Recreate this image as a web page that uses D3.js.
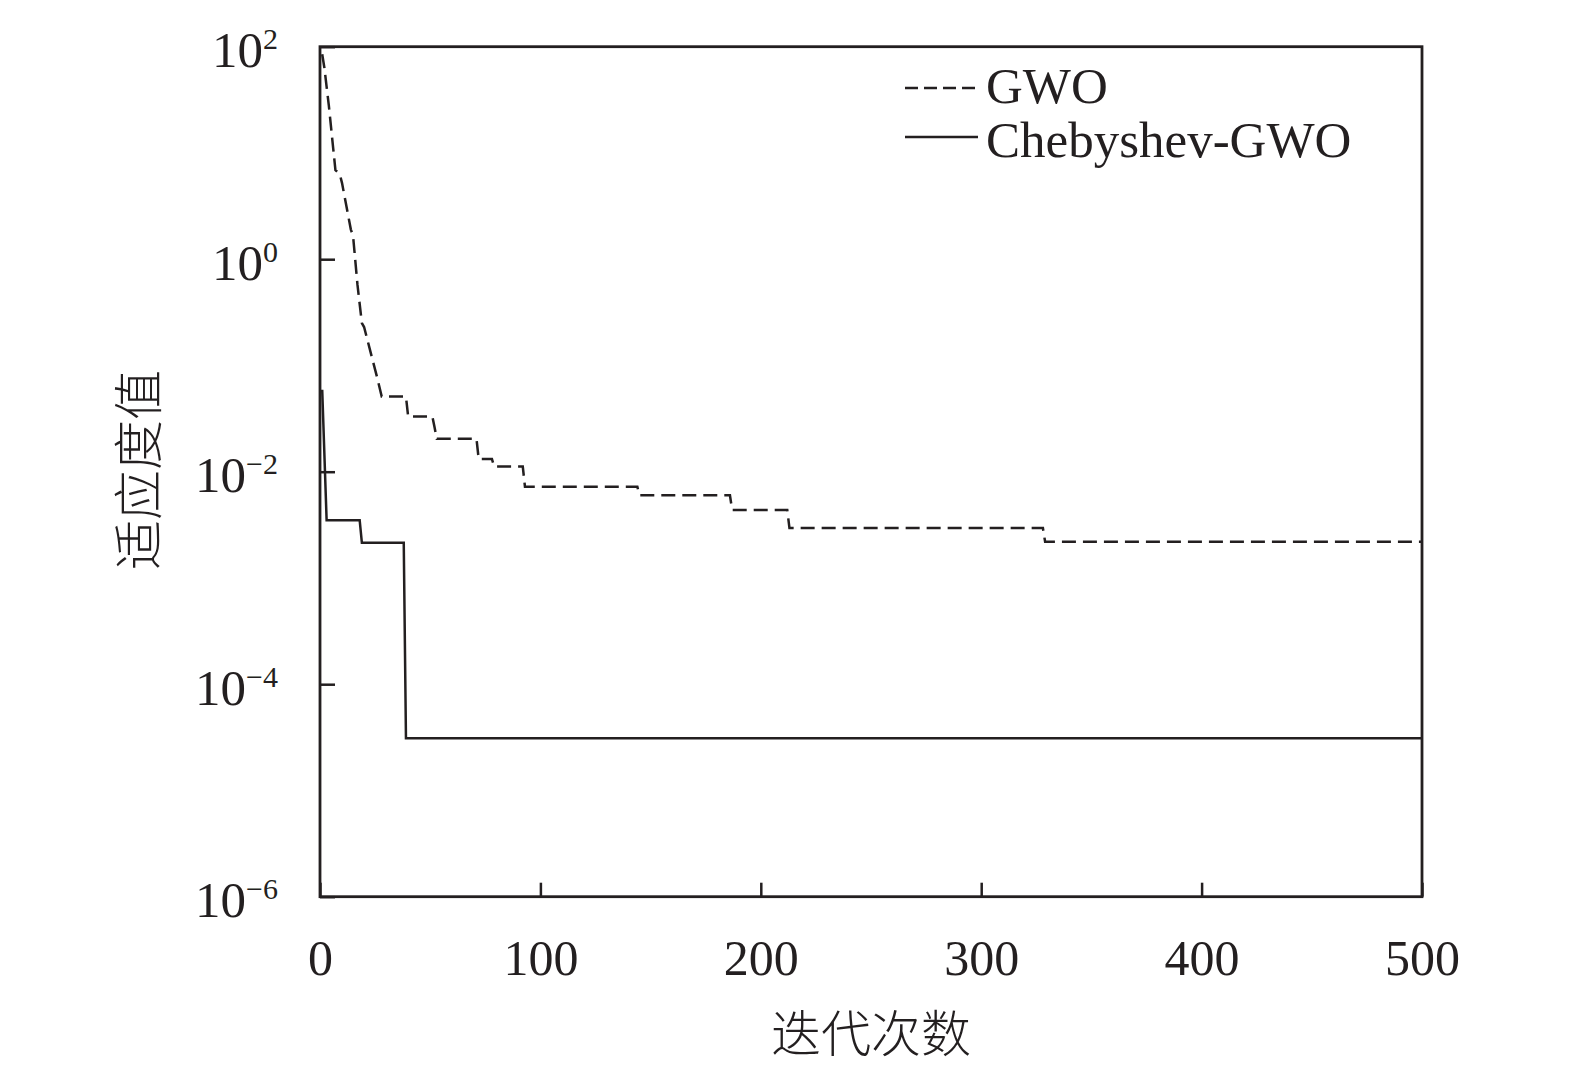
<!DOCTYPE html>
<html>
<head>
<meta charset="utf-8">
<script src="https://cdn.jsdelivr.net/npm/d3@7"></script>
<style>
  html, body { margin: 0; padding: 0; background: #fff; }
  svg { display: block; }
</style>
</head>
<body>
<svg id="chart" width="1575" height="1068"></svg>
<script>
// GWO convergence curve (iteration, best fitness)
const gwoIter = [1, 2, 4, 6, 7, 9, 10, 14, 15, 17, 19, 20, 26, 28, 39, 40, 51, 52, 53, 71, 72, 78, 79, 92, 93, 144, 145, 186, 187, 212, 213, 328, 329, 500];
const gwoFit = [85, 63, 28, 11, 6.9, 6.3, 5.2, 1.9, 1.66, 0.575, 0.25, 0.23, 0.076, 0.051, 0.051, 0.033, 0.033, 0.026, 0.0204, 0.0204, 0.0132, 0.0132, 0.0112, 0.0112, 0.0072, 0.0072, 0.006, 0.006, 0.00437, 0.00437, 0.00295, 0.00295, 0.00219, 0.00219];

// Chebyshev-GWO convergence curve
const chebIter = [1, 3, 18, 19, 38, 39, 500];
const chebFit = [0.059, 0.0035, 0.0035, 0.00214, 0.00214, 3.1e-5, 3.1e-5];

const xTicks = [0, 100, 200, 300, 400, 500];
const yTicks = [1e2, 1e0, 1e-2, 1e-4, 1e-6];
const yExp = ['2', '0', '\u22122', '\u22124', '\u22126'];

const seriesNames = ['GWO', 'Chebyshev-GWO'];
const xTitle = '迭代次数';
const yTitle = '适应度值';

const ink = '#231f20';
const serif = '"Liberation Serif", "Times New Roman", serif';
const cjk = '"Noto Sans CJK SC", sans-serif';

const margin = {left: 320, top: 46.7, right: 1422, bottom: 896.7};

const svg = d3.select('#chart');

const x = d3.scaleLinear().domain([0, 500]).range([margin.left, margin.right]);
const y = d3.scaleLog().domain([1e-6, 1e2]).range([margin.bottom, margin.top]);

// x axis, ticks pointing inward
const xAxis = svg.append('g')
  .attr('transform', 'translate(0,' + margin.bottom + ')')
  .call(d3.axisBottom(x).tickValues(xTicks).tickSize(-14).tickPadding(43).tickFormat(d3.format('d')));

xAxis.select('.domain').remove();
xAxis.selectAll('line').attr('stroke', ink).attr('stroke-width', 2.5);
xAxis.selectAll('text')
  .attr('fill', ink)
  .style('font-family', serif)
  .style('font-size', '50px');

// y axis, log scale with power labels
const yAxis = svg.append('g')
  .attr('transform', 'translate(' + margin.left + ',0)')
  .call(d3.axisLeft(y).tickValues(yTicks).tickSize(-15).tickPadding(42).tickFormat(''));

yAxis.select('.domain').remove();
yAxis.selectAll('line').attr('stroke', ink).attr('stroke-width', 2.5);
yAxis.selectAll('.tick text').each(function (d, i) {
  const t = d3.select(this)
    .attr('dy', null)
    .attr('y', 20)
    .attr('fill', ink)
    .style('font-family', serif)
    .style('font-size', '51px');
  t.append('tspan').text('10');
  t.append('tspan')
    .attr('dy', -18)
    .style('font-size', '30px')
    .text(yExp[i]);
});

// plot frame
svg.append('rect')
  .attr('x', margin.left)
  .attr('y', margin.top)
  .attr('width', margin.right - margin.left)
  .attr('height', margin.bottom - margin.top)
  .attr('fill', 'none')
  .attr('stroke', ink)
  .attr('stroke-width', 2.8);

const line = d3.line()
  .x(function (d) { return x(d[0]); })
  .y(function (d) { return y(d[1]); });

const gwoData = d3.zip(gwoIter, gwoFit);
const chebData = d3.zip(chebIter, chebFit);

svg.append('path')
  .datum(gwoData)
  .attr('d', line)
  .attr('fill', 'none')
  .attr('stroke', ink)
  .attr('stroke-width', 2.5)
  .attr('stroke-dasharray', '14,7');

svg.append('path')
  .datum(chebData)
  .attr('d', line)
  .attr('fill', 'none')
  .attr('stroke', ink)
  .attr('stroke-width', 2.5);

// legend
const legend = svg.append('g');
const legendRows = [
  {name: seriesNames[0], dash: '13,6', ly: 88, ty: 103},
  {name: seriesNames[1], dash: null, ly: 137, ty: 157}
];

legendRows.forEach(function (r) {
  legend.append('line')
    .attr('x1', 905).attr('x2', 978)
    .attr('y1', r.ly).attr('y2', r.ly)
    .attr('stroke', ink)
    .attr('stroke-width', 2.5)
    .attr('stroke-dasharray', r.dash);
  legend.append('text')
    .attr('x', 986)
    .attr('y', r.ty)
    .attr('fill', ink)
    .style('font-family', serif)
    .style('font-size', '51px')
    .text(r.name);
});

// axis titles
svg.append('text')
  .attr('x', (margin.left + margin.right) / 2)
  .attr('y', 1052)
  .attr('text-anchor', 'middle')
  .attr('fill', ink)
  .style('font-family', cjk)
  .style('font-weight', 300)
  .style('font-size', '50px')
  .text(xTitle);

svg.append('text')
  .attr('transform', 'translate(157,470) rotate(-90)')
  .attr('text-anchor', 'middle')
  .attr('fill', ink)
  .style('font-family', cjk)
  .style('font-weight', 300)
  .style('font-size', '50px')
  .text(yTitle);
</script>
</body>
</html>
